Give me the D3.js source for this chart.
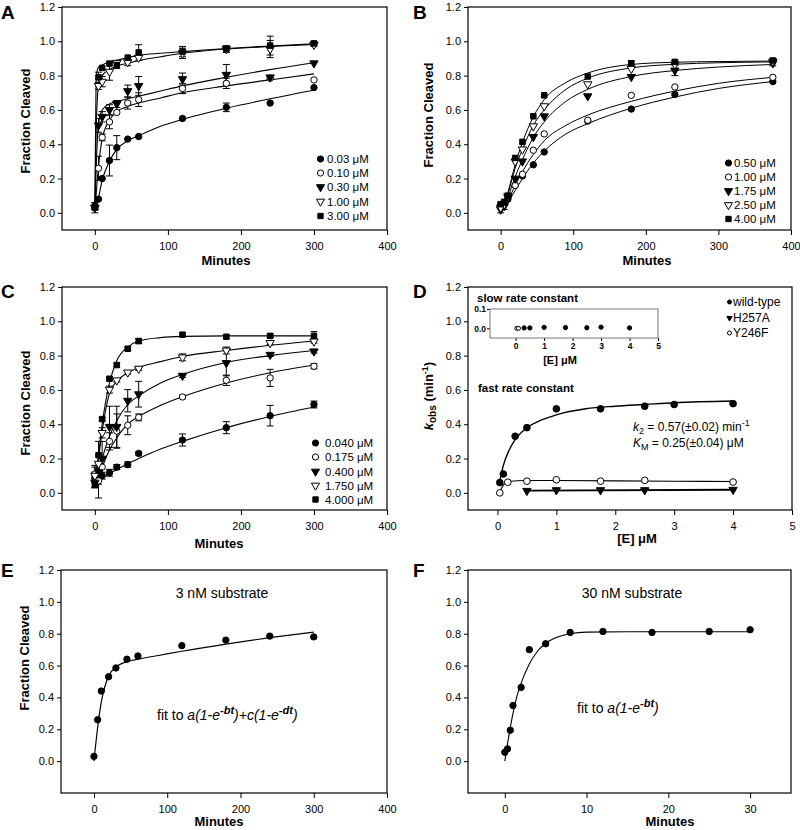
<!DOCTYPE html>
<html><head><meta charset="utf-8">
<script src="https://cdn.jsdelivr.net/npm/d3@7"></script>
<style>
body{margin:0;background:#fff}
svg{display:block}
text{font-family:"Liberation Sans",Arial,Helvetica,sans-serif;fill:#000}
</style>
</head><body>
<svg id="chart" width="800" height="830"></svg>
<script>
// ---------------- DATA ----------------
// Panel A
const timesA = [0,5,10,20,30,45,60,120,180,240,300];
const legendA = ["0.03 μM","0.10 μM","0.30 μM","1.00 μM","3.00 μM"];
const a003 = [0.04,0.08,0.20,0.305,0.38,0.43,0.445,0.55,0.615,0.64,0.73];
const a010 = [0.03,0.26,0.44,0.53,0.585,0.64,0.66,0.725,0.755,0.785,0.775];
const a030 = [0.03,0.51,0.56,0.60,0.635,0.71,0.74,0.78,0.805,0.79,0.872];
const a100 = [0.03,0.74,0.765,0.823,0.875,0.878,0.905,0.93,0.955,0.955,0.98];
const a300 = [0.03,0.79,0.845,0.87,0.862,0.905,0.935,0.94,0.955,0.975,0.988];
const errA003 = [0.02,0,0,0.09,0.07,0,0,0,0.025,0,0];
const errA010 = [0.01,0.07,0.02,0.04,0,0.035,0.04,0.03,0.03,0,0];
const errA030 = [0.01,0.04,0.03,0.03,0.02,0.035,0.055,0.035,0.06,0.01,0];
const errA100 = [0.01,0.02,0.03,0.05,0,0.02,0,0.03,0.01,0.05,0.01];
const errA300 = [0.03,0.03,0,0,0.02,0,0.045,0.03,0.02,0.055,0.01];
const fitTimesA = [0,1,2,5,10,20,30,45,60,90,120,180,240,300];
const fitA003 = [0.03,0.04,0.05,0.09,0.19,0.30,0.37,0.42,0.45,0.505,0.545,0.61,0.665,0.715];
const fitA010 = [0.0,0.06,0.12,0.27,0.43,0.54,0.59,0.62,0.64,0.67,0.70,0.74,0.775,0.81];
const fitA030 = [0.03,0.15,0.28,0.52,0.60,0.635,0.648,0.665,0.68,0.71,0.74,0.79,0.835,0.875];
const fitA100 = [0.03,0.30,0.52,0.74,0.80,0.835,0.855,0.872,0.888,0.91,0.93,0.955,0.97,0.982];
const fitA300 = [0.03,0.50,0.80,0.85,0.862,0.878,0.89,0.905,0.918,0.93,0.94,0.958,0.973,0.985];

// Panel B
const timesB = [0,5,10,20,30,45,60,120,180,240,375];
const legendB = ["0.50 μM","1.00 μM","1.75 μM","2.50 μM","4.00 μM"];
const b050 = [0.04,0.05,0.08,0.16,0.215,0.28,0.355,0.535,0.605,0.69,0.765];
const b100 = [0.05,0.06,0.09,0.16,0.225,0.365,0.46,0.54,0.685,0.734,0.79];
const b175 = [0.02,0.04,0.09,0.20,0.30,0.443,0.563,0.68,0.793,0.83,0.872];
const b250 = [0.03,0.05,0.10,0.30,0.37,0.505,0.622,0.75,0.84,0.865,0.883];
const b400 = [0.05,0.06,0.10,0.32,0.414,0.563,0.685,0.795,0.872,0.88,0.888];
const errB050 = [0,0,0,0,0,0,0,0,0,0,0];
const errB100 = [0,0,0,0,0,0,0,0,0,0,0];
const errB175 = [0.02,0,0,0,0,0,0,0,0,0.03,0.015];
const errB250 = [0,0.03,0,0,0,0,0,0,0,0,0];
const errB400 = [0,0,0,0,0,0,0,0,0.015,0.01,0];
const fitTimesB = [0,5,10,20,30,45,60,90,120,180,240,300,375];
const fitB050 = [0.0,0.03,0.06,0.13,0.20,0.29,0.36,0.46,0.52,0.61,0.675,0.725,0.765];
const fitB100 = [0.0,0.03,0.07,0.16,0.24,0.34,0.42,0.51,0.57,0.65,0.71,0.755,0.79];
const fitB175 = [0.0,0.04,0.09,0.21,0.31,0.44,0.53,0.65,0.72,0.795,0.83,0.85,0.865];
const fitB250 = [0.0,0.05,0.11,0.26,0.37,0.51,0.60,0.72,0.785,0.845,0.866,0.875,0.88];
const fitB400 = [0.0,0.05,0.12,0.28,0.41,0.56,0.66,0.76,0.815,0.865,0.878,0.882,0.885];

// Panel C
const timesC = [0,5,10,20,30,45,60,120,180,240,300];
const legendC = ["0.040 μM","0.175 μM","0.400 μM","1.750 μM","4.000 μM"];
const c0040 = [0.09,0.09,0.10,0.117,0.15,0.165,0.23,0.308,0.38,0.45,0.515];
const c0175 = [0.11,0.07,0.15,0.30,0.36,0.394,0.44,0.559,0.656,0.67,0.738];
const c0400 = [0.06,0.12,0.20,0.385,0.385,0.537,0.575,0.683,0.757,0.805,0.825];
const c1750 = [0.10,0.17,0.35,0.602,0.656,0.702,0.724,0.79,0.83,0.874,0.883];
const c4000 = [0.05,0.22,0.43,0.665,0.745,0.84,0.885,0.922,0.91,0.915,0.915];
const errC0040 = [0.06,0.04,0.02,0.02,0.015,0.015,0.01,0.035,0.035,0.06,0.02];
const errC0175 = [0.05,0.10,0.05,0.05,0.10,0.055,0.02,0.01,0.03,0.05,0.015];
const errC0400 = [0.03,0.05,0.10,0.12,0.12,0.065,0.075,0.01,0.075,0.01,0.01];
const errC1750 = [0.02,0.05,0.03,0.02,0.01,0.01,0.01,0.02,0.02,0.01,0.01];
const errC4000 = [0.02,0.08,0.01,0.01,0.01,0.01,0.015,0.01,0.01,0.01,0.025];
const fitTimesC = [0,5,10,20,30,45,60,90,120,180,240,300];
const fitC0040 = [0.07,0.08,0.09,0.115,0.135,0.17,0.20,0.255,0.30,0.38,0.445,0.50];
const fitC0175 = [0.05,0.10,0.15,0.25,0.32,0.40,0.445,0.51,0.56,0.64,0.70,0.745];
const fitC0400 = [0.05,0.12,0.20,0.33,0.42,0.515,0.565,0.64,0.69,0.76,0.80,0.83];
const fitC1750 = [0.05,0.20,0.36,0.58,0.65,0.70,0.73,0.765,0.795,0.83,0.86,0.885];
const fitC4000 = [0.05,0.22,0.40,0.64,0.77,0.85,0.885,0.905,0.912,0.915,0.915,0.915];

// Panel D
const legendD = ["wild-type","H257A","Y246F"];
const concWT = [0.04,0.1,0.3,0.5,1,1.75,2.5,3,4];
const kobsWT = [0.06,0.11,0.33,0.38,0.49,0.49,0.505,0.515,0.52];
const concH257A = [0.5,1,1.75,2.5,4];
const kobsH257A = [0.012,0.016,0.016,0.016,0.018];
const concY246F = [0.04,0.175,0.5,1,1.75,2.5,4];
const kobsY246F = [0.0,0.062,0.068,0.076,0.068,0.073,0.063];
const fitConcWT = [0.04,0.1,0.2,0.3,0.5,0.75,1,1.5,2,2.5,3,4];
const fitKobsWT = [0.07,0.16,0.25,0.31,0.38,0.425,0.455,0.49,0.505,0.515,0.525,0.535];
const fitConcY246F = [0.04,0.1,0.175,0.5,1,2,3,4];
const fitKobsY246F = [0.005,0.045,0.066,0.072,0.072,0.07,0.068,0.066];
const fitConcH257A = [0.5,4];
const fitKobsH257A = [0.013,0.018];
const slowConcWT = [0.3,0.5,1,1.75,2.5,3,4];
const slowKobsWT = [0.002,0.002,0.005,0.004,0.003,0.006,0.002];
const slowConcY246F = [0.04,0.1];
const slowKobsY246F = [0.0,0.0];

// Panel E
const timesE = [0,5,10,20,30,45,60,120,180,240,300];
const fracE = [0.03,0.26,0.44,0.53,0.585,0.64,0.66,0.725,0.76,0.785,0.78];
const fitTimesE = [0,2,5,10,15,20,30,45,60,90,120,180,240,300];
const fitFracE = [0.0,0.09,0.21,0.37,0.47,0.535,0.59,0.625,0.64,0.665,0.69,0.735,0.775,0.81];

// Panel F
const timesF = [0,0.33,0.67,1,2,3,5,8,12,18,25,30];
const fracF = [0.056,0.077,0.194,0.349,0.463,0.70,0.737,0.808,0.814,0.808,0.814,0.825];
const fitTimesF = [0,0.5,1,1.5,2,3,4,5,6,8,10,15,20,30];
const fitFracF = [0.0,0.16,0.30,0.41,0.49,0.61,0.69,0.74,0.77,0.80,0.81,0.812,0.812,0.812];

const yTicks = [0,0.2,0.4,0.6,0.8,1.0,1.2];
const minuteTicks = [0,100,200,300,400];
const concTicks = [0,1,2,3,4,5];
const minuteTicksF = [0,10,20,30];

// ---------------- DRAWING ----------------
const svg = d3.select("#chart");
const FONT = '"Liberation Sans",Arial,Helvetica,sans-serif';

const MARK = {
  circle:  {t:d3.symbolCircle,   s:32, f:true,  r:0},
  ocircle: {t:d3.symbolCircle,   s:32, f:false, r:0},
  tri:     {t:d3.symbolTriangle, s:30, f:true,  r:180},
  otri:    {t:d3.symbolTriangle, s:30, f:false, r:180},
  square:  {t:d3.symbolSquare,   s:30, f:true,  r:0}
};
function marker(g, type, cx, cy, scale) {
  const m = MARK[type]; scale = scale || 1;
  g.append("path")
    .attr("d", d3.symbol(m.t, m.s*scale)())
    .attr("transform", `translate(${cx},${cy}) rotate(${m.r})`)
    .attr("fill", m.f ? "#000" : "#fff")
    .attr("stroke", "#000").attr("stroke-width", 1);
}

function panel(o) {
  const x = d3.scaleLinear().domain(o.xdom).range([o.x0, o.x1]);
  const y = d3.scaleLinear().domain(o.ydom).range([o.y1, o.y0]);
  const g = svg.append("g");
  const ax = g.append("g").attr("transform", `translate(0,${o.y1})`)
    .call(d3.axisBottom(x).tickValues(o.xticks).tickFormat(o.xfmt || d3.format("d"))
      .tickSize(5).tickSizeOuter(0).tickPadding(7));
  const ay = g.append("g").attr("transform", `translate(${o.x0},0)`)
    .call(d3.axisLeft(y).tickValues(o.yticks).tickFormat(d3.format(".1f"))
      .tickSize(4).tickSizeOuter(0).tickPadding(3));
  [ax, ay].forEach(a => {
    a.select(".domain").remove();
    a.selectAll("text").attr("font-family", FONT).attr("font-size", 11).attr("fill", "#000");
    a.selectAll("line").attr("stroke", "#000");
  });
  g.append("rect").attr("x", o.x0).attr("y", o.y0)
    .attr("width", o.x1 - o.x0).attr("height", o.y1 - o.y0)
    .attr("fill", "none").attr("stroke", "#000").attr("stroke-width", 1.2);
  return {g, x, y};
}

function fitLine(p, xs, ys, w) {
  const pts = xs.map((t, i) => [t, ys[i]]);
  p.g.append("path")
    .attr("d", d3.line().x(d => p.x(d[0])).y(d => p.y(d[1])).curve(d3.curveMonotoneX)(pts))
    .attr("fill", "none").attr("stroke", "#000").attr("stroke-width", w || 1.1);
}
function errBars(p, xs, ys, es) {
  xs.forEach((t, i) => {
    const e = es[i]; if (!e) return;
    const cx = p.x(t), ya = p.y(ys[i] - e), yb = p.y(ys[i] + e);
    p.g.append("line").attr("x1", cx).attr("x2", cx).attr("y1", ya).attr("y2", yb).attr("stroke", "#000").attr("stroke-width", 1);
    [ya, yb].forEach(yy => p.g.append("line").attr("x1", cx - 3.5).attr("x2", cx + 3.5)
      .attr("y1", yy).attr("y2", yy).attr("stroke", "#000").attr("stroke-width", 1));
  });
}
function points(p, xs, ys, type, scale) {
  xs.forEach((t, i) => marker(p.g, type, p.x(t), p.y(ys[i]), scale));
}
function text(x, y, str, size, weight, anchor) {
  return svg.append("text").attr("x", x).attr("y", y).attr("font-size", size)
    .attr("font-weight", weight || "normal").attr("text-anchor", anchor || "start").text(str);
}
function yTitle(x, y, str) {
  svg.append("text").attr("transform", `translate(${x},${y}) rotate(-90)`)
    .attr("text-anchor", "middle").attr("dy", "0.35em")
    .attr("font-size", 13).attr("font-weight", "bold").text(str);
}
function legend(sx, tx, rows, labels, types) {
  labels.forEach((l, i) => {
    marker(svg, types[i], sx, rows[i], 0.95);
    text(tx, rows[i], l, 11.5).attr("dy", "0.36em");
  });
}
const TYPES = ["circle","ocircle","tri","otri","square"];

// ---- Panel A ----
const pA = panel({x0:62,x1:387,y0:7,y1:230,xdom:[-45,400],ydom:[-0.1,1.2],xticks:minuteTicks,yticks:yTicks});
[fitA003,fitA010,fitA030,fitA100,fitA300].forEach(f => fitLine(pA, fitTimesA, f));
const sA = [a003,a010,a030,a100,a300], eA = [errA003,errA010,errA030,errA100,errA300];
sA.forEach((s,i) => errBars(pA, timesA, s, eA[i]));
sA.forEach((s,i) => points(pA, timesA, s, TYPES[i]));
legend(320.5, 327, [159,173,187,201.5,216], legendA, TYPES);

// ---- Panel B ----
const pB = panel({x0:468,x1:791,y0:7,y1:230,xdom:[-45,400],ydom:[-0.1,1.2],xticks:minuteTicks,yticks:yTicks});
[fitB050,fitB100,fitB175,fitB250,fitB400].forEach(f => fitLine(pB, fitTimesB, f, 1));
const sB = [b050,b100,b175,b250,b400], eB = [errB050,errB100,errB175,errB250,errB400];
sB.forEach((s,i) => errBars(pB, timesB, s, eB[i]));
sB.forEach((s,i) => points(pB, timesB, s, TYPES[i]));
legend(728.5, 734, [163,177,191,205,219], legendB, TYPES);

// ---- Panel C ----
const pC = panel({x0:62,x1:387,y0:287,y1:510,xdom:[-45,400],ydom:[-0.1,1.2],xticks:minuteTicks,yticks:yTicks});
[fitC0040,fitC0175,fitC0400,fitC1750,fitC4000].forEach(f => fitLine(pC, fitTimesC, f));
const sC = [c0040,c0175,c0400,c1750,c4000], eC = [errC0040,errC0175,errC0400,errC1750,errC4000];
sC.forEach((s,i) => errBars(pC, timesC, s, eC[i]));
sC.forEach((s,i) => points(pC, timesC, s, TYPES[i]));
legend(315.5, 325, [443,457,471.5,485.5,499.5], legendC, TYPES);

// ---- Panel D ----
const pD = panel({x0:468,x1:792,y0:287,y1:510,xdom:[-0.5,5],ydom:[-0.1,1.2],xticks:concTicks,yticks:yTicks});
fitLine(pD, fitConcWT, fitKobsWT, 1.4);
fitLine(pD, fitConcY246F, fitKobsY246F, 1.1);
fitLine(pD, fitConcH257A, fitKobsH257A, 1.8);
points(pD, concWT, kobsWT, "circle", 1.1);
points(pD, concY246F, kobsY246F, "ocircle", 1.1);
points(pD, concH257A, kobsH257A, "tri", 1.0);
// inset
const ix = d3.scaleLinear().domain([-0.9,5]).range([490,658]);
const iy = d3.scaleLinear().domain([-0.05,0.1]).range([338,309]);
const ig = svg.append("g");
const iax = ig.append("g").attr("transform","translate(0,338)")
  .call(d3.axisBottom(ix).tickValues(concTicks).tickFormat(d3.format("d")).tickSize(3).tickSizeOuter(0).tickPadding(2));
const iay = ig.append("g").attr("transform","translate(490,0)")
  .call(d3.axisLeft(iy).tickValues([0,0.1]).tickFormat(d3.format(".1f")).tickSize(3).tickSizeOuter(0).tickPadding(1));
[iax, iay].forEach(a => {
  a.select(".domain").remove();
  a.selectAll("text").attr("font-family", FONT).attr("font-size", 8.5).attr("font-weight","bold").attr("fill","#000");
  a.selectAll("line").attr("stroke","#000");
});
ig.append("rect").attr("x",490).attr("y",309).attr("width",168).attr("height",29)
  .attr("fill","none").attr("stroke","#777").attr("stroke-width",1);
slowConcWT.forEach((c,i) => marker(ig, "circle", ix(c), iy(slowKobsWT[i]), 0.45));
slowConcY246F.forEach((c,i) => marker(ig, "ocircle", ix(c), iy(slowKobsY246F[i]), 0.4));
text(477, 302, "slow rate constant", 11.5, "bold");
text(560, 364, "[E] μM", 11, "bold", "middle");
text(478, 392, "fast rate constant", 11.5, "bold");
// D legend
const lgY = [302, 318, 333];
marker(svg, "circle", 729.5, lgY[0], 0.4);
marker(svg, "tri", 729.5, lgY[1], 0.4);
marker(svg, "ocircle", 729.5, lgY[2], 0.4);
legendD.forEach((l,i) => text(733, lgY[i], l, 12).attr("dy","0.36em"));
// equations
const eq1 = svg.append("text").attr("x",633).attr("y",431).attr("font-size",12);
eq1.append("tspan").attr("font-style","italic").text("k");
eq1.append("tspan").attr("font-size",9).attr("dy",3).text("2");
eq1.append("tspan").attr("dy",-3).text(" = 0.57(±0.02) min");
eq1.append("tspan").attr("font-size",9).attr("dy",-5).text("-1");
const eq2 = svg.append("text").attr("x",633).attr("y",447).attr("font-size",12);
eq2.append("tspan").attr("font-style","italic").text("K");
eq2.append("tspan").attr("font-size",9).attr("dy",3).text("M");
eq2.append("tspan").attr("dy",-3).text(" = 0.25(±0.04) μM");

// ---- Panel E ----
const pE = panel({x0:61,x1:387,y0:570,y1:793,xdom:[-45,400],ydom:[-0.2,1.2],xticks:minuteTicks,yticks:yTicks});
fitLine(pE, fitTimesE, fitFracE, 1.2);
points(pE, timesE, fracE, "circle");
text(222, 598, "3 nM substrate", 14, "normal", "middle");
const fe = svg.append("text").attr("x",157).attr("y",720).attr("font-size",14);
fe.append("tspan").text("fit to ");
fe.append("tspan").attr("font-style","italic").text("a(1-e");
fe.append("tspan").attr("font-style","italic").attr("font-weight","bold").attr("font-size",11).attr("dy",-6).text("-bt");
fe.append("tspan").attr("font-style","italic").attr("dy",6).text(")+c(1-e");
fe.append("tspan").attr("font-style","italic").attr("font-weight","bold").attr("font-size",11).attr("dy",-6).text("-dt");
fe.append("tspan").attr("font-style","italic").attr("dy",6).text(")");

// ---- Panel F ----
const pF = panel({x0:468,x1:791,y0:570,y1:793,xdom:[-4.5,35],ydom:[-0.2,1.2],xticks:minuteTicksF,yticks:yTicks});
fitLine(pF, fitTimesF, fitFracF, 1.1);
points(pF, timesF, fracF, "circle");
text(632, 598, "30 nM substrate", 14, "normal", "middle");
const ff = svg.append("text").attr("x",577).attr("y",713).attr("font-size",14);
ff.append("tspan").text("fit to ");
ff.append("tspan").attr("font-style","italic").text("a(1-e");
ff.append("tspan").attr("font-style","italic").attr("font-weight","bold").attr("font-size",11).attr("dy",-6).text("-bt");
ff.append("tspan").attr("font-style","italic").attr("dy",6).text(")");

// ---- Titles ----
yTitle(25, 121, "Fraction Cleaved");
yTitle(428, 115, "Fraction Cleaved");
yTitle(25, 403, "Fraction Cleaved");
yTitle(24, 658, "Fraction Cleaved");
const kt = svg.append("text").attr("transform","translate(428,396) rotate(-90)")
  .attr("text-anchor","middle").attr("dy","0.35em").attr("font-size",13).attr("font-weight","bold");
kt.append("tspan").attr("font-style","italic").text("k");
kt.append("tspan").attr("font-size",10).attr("dy",3).text("obs");
kt.append("tspan").attr("dy",-3).text(" (min");
kt.append("tspan").attr("font-size",9).attr("dy",-5).text("-1");
kt.append("tspan").attr("dy",5).text(")");

text(226, 265, "Minutes", 13, "bold", "middle");
text(647, 265, "Minutes", 13, "bold", "middle");
text(219, 548, "Minutes", 13, "bold", "middle");
text(637, 543, "[E] μM", 13, "bold", "middle");
text(219, 826, "Minutes", 13, "bold", "middle");
text(670, 826, "Minutes", 13, "bold", "middle");

// panel letters
[["A",1,19],["B",413,19],["C",1,298],["D",413,298],["E",1,577],["F",413,577]]
  .forEach(d => text(d[1], d[2], d[0], 19, "bold"));
</script>
</body></html>
